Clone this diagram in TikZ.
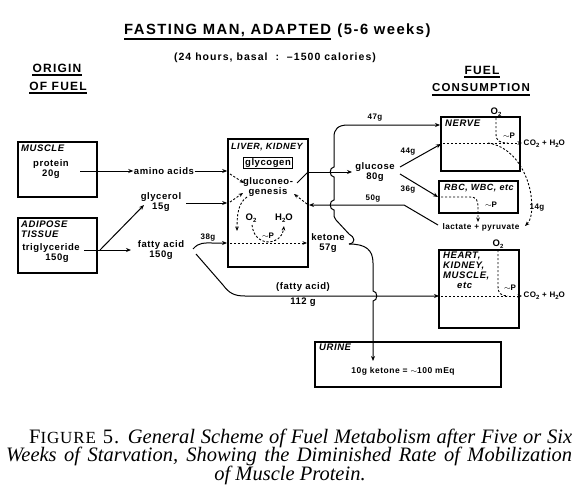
\documentclass[tikz,border=0pt]{standalone}
\usepackage{fontspec}
\setmainfont{Liberation Serif}
\newfontfamily\lett[LetterSpace=6]{Liberation Sans}
\newfontfamily\lettw[LetterSpace=10]{Liberation Sans}
\newfontfamily\capsp[LetterSpace=5]{Liberation Serif}
\usetikzlibrary{arrows.meta}
\newcommand\lsub[1]{\raisebox{-0.45ex}{\fontsize{6}{6}\selectfont #1}}
\begin{document}
\begin{tikzpicture}[x=1pt,y=-1pt,
  lab/.style={font=\lett\bfseries\fontsize{9.5}{9.5}\selectfont, inner sep=0.5pt, align=center},
  sml/.style={font=\lett\bfseries\fontsize{8}{8}\selectfont, inner sep=0.5pt},
  hdr/.style={font=\lettw\bfseries\fontsize{12}{12}\selectfont, inner sep=0pt},
  ttl/.style={font=\lettw\bfseries\fontsize{14.8}{14.8}\selectfont, inner sep=0pt, anchor=base west},
  btl/.style={font=\lett\bfseries\itshape\fontsize{9.5}{10}\selectfont, inner sep=0pt, anchor=north west, align=left},
  box/.style={draw, line width=1.7pt, inner sep=0pt},
  ln/.style={line width=1pt},
  ul/.style={line width=1.5pt},
  arr/.style={ln, -{Stealth[length=5pt,width=4pt]}},
  dsh/.style={line width=0.9pt, dash pattern=on 2.2pt off 1.8pt},
  darr/.style={dsh, -{Stealth[length=4.5pt,width=3.6pt]}},
  captxt/.style={font=\fontsize{20.5}{20.5}\selectfont, inner sep=0pt},
]
\path[use as bounding box] (0,0) rectangle (588,500);

% ---------- headings ----------
\node[ttl] (t1) at (124,35) {FASTING MAN, ADAPTED};
\node[ttl] (t2) at ([xshift=6pt]t1.base east) {(5-6 weeks)};
\draw[ul] ([yshift=-4pt]t1.base west) -- ([yshift=-4pt]t1.base east);
\node[lab, font=\lettw\bfseries\fontsize{10.5}{10.5}\selectfont] (sub) at (275,58) {(24 hours, basal \ :\ \ –1500 calories)};
\node[hdr] (orig) at (57,68) {ORIGIN};
\node[hdr] (offuel) at (58,86) {OF FUEL};
\draw[ul] ([yshift=-3pt]orig.base west) -- ([yshift=-3pt]orig.base east);
\draw[ul] ([yshift=-3pt]offuel.base west) -- ([yshift=-3pt]offuel.base east);
\node[hdr] (fuel) at (482,70) {FUEL};
\node[hdr, font=\lettw\bfseries\fontsize{11.5}{11.5}\selectfont] (cons) at (481,88) {CONSUMPTION};
\draw[ul] ([yshift=-3pt]fuel.base west) -- ([yshift=-3pt]fuel.base east);
\draw[ul] ([yshift=-3pt]cons.base west) -- ([yshift=-3pt]cons.base east);

% ---------- boxes ----------
\node[box, minimum width=79pt, minimum height=55pt] (muscle) at (57.5,169.5) {};
\node[box, minimum width=79pt, minimum height=55pt] (adipose) at (57.5,245.5) {};
\node[box, minimum width=80pt, minimum height=128pt] (liver) at (268,203) {};
\node[box, minimum width=79pt, minimum height=54pt] (nerve) at (480.5,144) {};
\node[box, minimum width=79pt, minimum height=32pt] (rbc) at (478.5,197) {};
\node[box, minimum width=80pt, minimum height=78pt] (heart) at (479,289) {};
\node[box, minimum width=186pt, minimum height=45pt] (urine) at (408,364.5) {};

\node[btl] (mtitle) at (21,145) {MUSCLE};
\node[btl] (atitle) at (21,221) {ADIPOSE\\TISSUE};
\node[btl, font=\lett\bfseries\itshape\fontsize{9}{9}\selectfont] (ltitle) at (231,143) {LIVER, KIDNEY};
\node[btl] (ntitle) at (445,120) {NERVE};
\node[btl, font=\lett\bfseries\itshape\fontsize{9}{9}\selectfont] (rtitle) at (444,184) {RBC, WBC, etc};
\node[btl] (htitle) at (443,252) {HEART,\\KIDNEY,\\MUSCLE,\\\hspace*{14pt}etc};
\node[btl] (utitle) at (319,344) {URINE};

% ---------- labels ----------
\node[lab] (protein) at (51,169) {protein\\20g};
\node[lab] (amino) at (164,171) {amino acids};
\node[lab] (trig) at (51,248) {triglyceride};
\node[lab] (trig150) at (57,258) {150g};
\node[lab] (glycerol) at (161,202) {glycerol\\15g};
\node[lab] (fatty) at (161,250) {fatty acid\\150g};
\node[sml] (l38) at (208,238) {38g};
\node[lab, draw, line width=0.9pt, inner sep=1.5pt] (glycogen) at (268,163) {glycogen};
\node[lab] (gluco) at (268,187) {gluconeo-\\genesis};
\node[lab] (o2l) at (251,218) {O\lsub2};
\node[lab] (h2ol) at (284,218) {H\lsub2O};
\node[sml] (pl) at (268,236) {$\sim$P};
\node[lab] (ketone) at (328,243) {ketone\\57g};
\node[lab] (glucose) at (375,172) {glucose\\80g};
\node[sml] (l47) at (375,118) {47g};
\node[sml] (l44) at (408,152) {44g};
\node[sml] (l36) at (408,190) {36g};
\node[sml] (l50) at (373,199) {50g};
\node[lab, font=\lett\bfseries\fontsize{8.2}{8.2}\selectfont] (lact) at (481,227) {lactate + pyruvate};
\node[lab] (o2n) at (496,112) {O\lsub2};
\node[sml] (pn) at (509,136) {$\sim$P};
\node[sml, anchor=west] (co2n) at (523,144) {CO\lsub2 + H\lsub2O};
\node[sml] (l14) at (537,208) {14g};
\node[sml] (pr) at (491,205) {$\sim$P};
\node[lab] (o2h) at (498,244) {O\lsub2};
\node[sml] (ph) at (510,288) {$\sim$P};
\node[sml, anchor=west] (co2h) at (523,296) {CO\lsub2 + H\lsub2O};
\node[lab] (fa2) at (303,287) {(fatty acid)};
\node[lab] (l112) at (303,302) {112 g};
\node[lab, font=\lett\bfseries\fontsize{8.5}{8.5}\selectfont] (utxt) at (403,371) {10g ketone = $\sim$100 mEq};

% ---------- named connector ends ----------
\coordinate (ps) at (80,171);
\coordinate (tg) at (84,250);
\coordinate (tgj) at (100,250);
\coordinate (gly) at (186,203);
\coordinate (kj) at (349,244);
\coordinate (glin) at (352,172);

% ---------- connectors ----------
\draw[arr] (ps) -- (amino.west |- ps);
\draw[arr] (amino.east) -- (amino.east -| liver.west);
\draw[arr] (tg) -- (131,250);
\draw[arr] (tgj) -- (144,205);
\draw[arr] (gly) -- (gly -| liver.west);
\draw[arr] (193,249) .. controls (199,242) and (205,243) .. (212,243) -- (227,243);
\draw[arr] (196,254) -- (223,285) .. controls (229,293) and (234,296) .. (245,296) -- (439,296);

% inside liver
\draw[darr] (230,174) -- (244,183);
\draw[darr] (230,202) -- (243,193);
\draw[darr] (247,197) .. controls (238,203) and (237,215) .. (237,231);
\draw[darr] (307,204) -- (294,194);
\draw[darr] (252,225) .. controls (254,247) and (281,247) .. (284,226);
\draw[darr] (230,243) -- (307,243);

% glucose
\draw[ln] (297,183) -- (308,172);
\draw[arr] (308,172) -- (glin);
\draw[arr] (400,167) -- (441,144);
\draw[arr] (400,174) -- (438,197);
\draw[arr] (438,225) -- (404,205) -- (309,205);

% ketone branches
\draw[arr] (kj) .. controls (356,243) and (355,237) .. (349,234) -- (336,220)
  .. controls (334,218) and (334,216) .. (334,213) -- (334,210)
  .. controls (329,210) and (329,200) .. (334,200) -- (334,177)
  .. controls (329,177) and (329,167) .. (334,167) -- (334,137)
  .. controls (334,129) and (338,125) .. (348,125) -- (440,125);
\draw[arr] (kj) .. controls (366,244) and (373,250) .. (373,263) -- (373,291)
  .. controls (378,291) and (378,301) .. (373,301) -- (373,361);

% nerve
\draw[darr] (443,143) -- (522,143);
\draw[dsh] (496,118) -- (496,134) .. controls (496,141) and (500,143) .. (508,143);
\draw[darr] (488,143) .. controls (515,147) and (528,175) .. (531,195) .. controls (533,212) and (531,220) .. (525,226);

% rbc
\draw[darr] (441,197) -- (470,197) .. controls (477,197) and (478,201) .. (478,208) -- (478,222);

% heart
\draw[darr] (441,296) -- (522,296);
\draw[dsh] (498,250) -- (498,287) .. controls (498,293) and (501,296) .. (508,296);

% ---------- caption ----------
\node[captxt, anchor=base west] (cap1) at (29,443) {\makebox[543pt][s]{{\capsp F\fontsize{17}{17}\selectfont IGURE\fontsize{20.5}{20.5}\selectfont{} 5.} \itshape General Scheme of Fuel Metabolism after Five or Six}};
\node[captxt, anchor=base west] (cap2) at (6,461.5) {\makebox[566pt][s]{\itshape Weeks of Starvation, Showing the Diminished Rate of Mobilization}};
\node[captxt, anchor=base] (cap3) at (290,480) {\itshape of Muscle Protein.};
\end{tikzpicture}
\end{document}
